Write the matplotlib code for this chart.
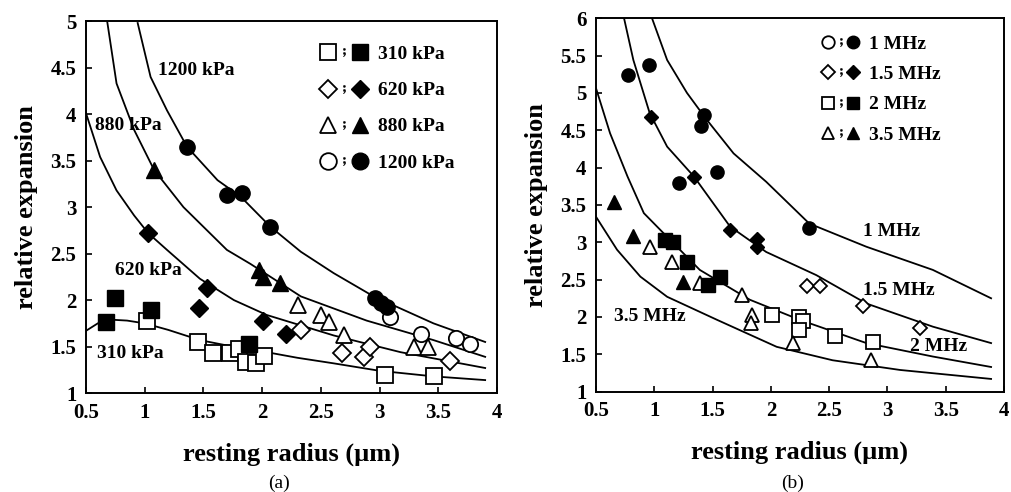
import matplotlib
matplotlib.use('Agg')
import matplotlib.pyplot as plt
from matplotlib.lines import Line2D
from matplotlib.legend_handler import HandlerTuple

plt.rcParams['font.family'] = 'Liberation Serif'
plt.rcParams['font.weight'] = 'bold'
plt.rcParams['mathtext.fontset'] = 'stix'

text_size = 14

# ---- panel (a): pressure ----
a_labels = ['310 kPa', '620 kPa', '880 kPa', '1200 kPa']
a_markers = ['s', 'D', '^', 'o']

a_open_x = [[1.02, 1.45, 1.58, 1.73, 1.80, 1.86, 1.95, 2.02, 3.05, 3.46],
            [2.33, 2.68, 2.87, 2.92, 3.60],
            [2.31, 2.50, 2.57, 2.70, 3.29, 3.41],
            [3.09, 3.35, 3.65, 3.77]]
a_open_y = [[1.78, 1.55, 1.43, 1.43, 1.47, 1.33, 1.32, 1.40, 1.19, 1.18],
            [1.68, 1.43, 1.39, 1.50, 1.34],
            [1.95, 1.84, 1.77, 1.62, 1.50, 1.50],
            [1.82, 1.64, 1.59, 1.53]]
a_fill_x = [[0.67, 0.75, 1.05, 1.89],
            [1.03, 1.53, 1.46, 2.01, 2.20],
            [1.08, 1.97, 2.01, 2.15],
            [1.36, 1.70, 1.83, 2.07, 2.96, 3.01, 3.06]]
a_fill_y = [[1.77, 2.02, 1.89, 1.53],
            [2.72, 2.13, 1.91, 1.78, 1.64],
            [3.40, 2.32, 2.25, 2.18],
            [3.65, 3.13, 3.15, 2.79, 2.02, 1.97, 1.93]]

a_curve_x = [[0.5, 0.6, 0.71, 0.85, 1.0, 1.2, 1.47, 1.75, 2.04, 2.3, 2.61, 3.0, 3.46, 3.9],
             [0.5, 0.62, 0.76, 0.91, 1.03, 1.19, 1.47, 1.76, 2.04, 2.61, 3.18, 3.9],
             [0.68, 0.76, 0.91, 1.08, 1.33, 1.70, 1.90, 2.33, 2.89, 3.46, 3.9],
             [0.94, 1.05, 1.19, 1.36, 1.62, 1.82, 2.07, 2.33, 2.61, 2.95, 3.46, 3.9]]
a_curve_y = [[1.67, 1.75, 1.79, 1.78, 1.75, 1.68, 1.57, 1.50, 1.44, 1.38, 1.32, 1.24, 1.18, 1.14],
             [4.01, 3.54, 3.18, 2.91, 2.72, 2.54, 2.23, 2.0, 1.84, 1.62, 1.44, 1.27],
             [5.0, 4.33, 3.83, 3.40, 3.0, 2.54, 2.39, 2.04, 1.78, 1.57, 1.39],
             [4.98, 4.40, 4.04, 3.65, 3.29, 3.11, 2.79, 2.52, 2.29, 2.04, 1.75, 1.55]]
a_curve_text = ['310 kPa', '620 kPa', '880 kPa', '1200 kPa']
a_text_x = [0.59, 0.75, 0.58, 1.11]
a_text_y = [1.43, 2.32, 3.88, 4.47]

# ---- panel (b): frequency ----
b_labels = ['1 MHz', '1.5 MHz', '2 MHz', '3.5 MHz']
b_markers = ['o', 'D', 's', '^']

b_open_x = [[],
            [2.31, 2.42, 2.79, 3.28],
            [2.01, 2.24, 2.28, 2.24, 2.55, 2.88],
            [0.96, 1.15, 1.39, 1.75, 1.84, 1.83, 2.19, 2.86]]
b_open_y = [[],
            [2.41, 2.41, 2.14, 1.85],
            [2.03, 2.00, 1.94, 1.82, 1.75, 1.67],
            [2.94, 2.74, 2.45, 2.29, 2.03, 1.92, 1.65, 1.42]]
b_fill_x = [[0.77, 0.95, 1.43, 1.40, 1.21, 1.54, 2.33],
            [0.97, 1.34, 1.65, 1.88, 1.88],
            [1.09, 1.16, 1.28, 1.46, 1.56],
            [0.65, 0.82, 1.25]]
b_fill_y = [[5.24, 5.37, 4.71, 4.56, 3.79, 3.94, 3.19],
            [4.68, 3.88, 3.16, 3.04, 2.94],
            [3.03, 3.01, 2.74, 2.43, 2.54],
            [3.54, 3.08, 2.47]]

b_curve_x = [[0.98, 1.11, 1.28, 1.44, 1.68, 1.96, 2.33, 2.82, 3.39, 3.89],
             [0.74, 0.82, 0.96, 1.11, 1.34, 1.65, 1.96, 2.39, 2.82, 3.39, 3.89],
             [0.5, 0.62, 0.77, 0.91, 1.08, 1.39, 1.82, 2.25, 2.82, 3.39, 3.89],
             [0.5, 0.68, 0.88, 1.11, 1.54, 2.05, 2.53, 3.11, 3.89]]
b_curve_y = [[6.0, 5.44, 5.0, 4.66, 4.19, 3.81, 3.25, 2.94, 2.63, 2.25],
             [6.0, 5.44, 4.73, 4.28, 3.88, 3.21, 2.87, 2.56, 2.18, 1.87, 1.65],
             [5.06, 4.46, 3.88, 3.39, 3.12, 2.63, 2.23, 1.96, 1.65, 1.47, 1.33],
             [3.34, 2.90, 2.54, 2.27, 1.96, 1.60, 1.42, 1.29, 1.17]]
b_curve_text = ['1 MHz', '1.5 MHz', '2 MHz', '3.5 MHz']
b_text_x = [2.79, 2.79, 3.19, 0.65]
b_text_y = [3.14, 2.36, 1.60, 2.00]


def draw_panel(ax, labels, markers, open_x, open_y, fill_x, fill_y,
               curve_x, curve_y, ctext, tx, ty, ms, ymax, yticks,
               leg_ms, leg_anchor, leg_space, leg_hlen, leg_pad):
  for cx, cy in zip(curve_x, curve_y):
    ax.plot(cx, cy, color='black', lw=1.3, zorder=2)
  handles = []
  for i, mk in enumerate(markers):
    size = ms * 0.8 if mk == 'D' else ms
    ax.plot(open_x[i], open_y[i], ls='', marker=mk, ms=size, mfc='white',
            mec='black', mew=1.3, zorder=3)
    ax.plot(fill_x[i], fill_y[i], ls='', marker=mk, ms=size, mfc='black',
            mec='black', mew=1.0, zorder=4)
    lsize = leg_ms * 0.8 if mk == 'D' else leg_ms
    h_open = Line2D([], [], ls='', marker=mk, ms=lsize, mfc='white', mec='black', mew=1.3)
    h_semi = Line2D([], [], ls='', marker='$;$', ms=6, color='black', mew=0.3)
    h_fill = Line2D([], [], ls='', marker=mk, ms=lsize, mfc='black', mec='black')
    handles.append((h_open, h_semi, h_fill))
  for s, x, y in zip(ctext, tx, ty):
    ax.text(x, y, s, fontsize=text_size, fontweight='bold', va='center', ha='left')
  ax.legend(handles, labels, handler_map={tuple: HandlerTuple(ndivide=None, pad=leg_pad)},
            loc='upper left', bbox_to_anchor=leg_anchor, frameon=False,
            fontsize=text_size, handlelength=leg_hlen, handletextpad=0.5,
            labelspacing=leg_space, borderaxespad=0)
  ax.set_xlim(0.5, 4)
  ax.set_ylim(1, ymax)
  ax.set_xticks([0.5, 1, 1.5, 2, 2.5, 3, 3.5, 4])
  ax.set_xticklabels(['0.5', '1', '1.5', '2', '2.5', '3', '3.5', '4'])
  ax.set_yticks(yticks)
  ax.set_yticklabels(['%g' % t for t in yticks])
  ax.tick_params(direction='in', length=4, width=1.2, labelsize=text_size + 1, pad=7,
                 top=False, right=False)
  for sp in ax.spines.values():
    sp.set_linewidth(1.4)
  ax.set_xlabel('resting radius (\u00b5m)', fontsize=text_size + 5, fontweight='bold', labelpad=14)
  ax.set_ylabel('relative expansion', fontsize=text_size + 5, fontweight='bold', labelpad=9)


def main():
  fig = plt.figure(figsize=(10.12, 4.92), dpi=100)
  ax1 = fig.add_axes([0.085, 0.201, 0.406, 0.756])
  ax2 = fig.add_axes([0.589, 0.204, 0.403, 0.759])

  draw_panel(ax1, a_labels, a_markers, a_open_x, a_open_y, a_fill_x, a_fill_y,
             a_curve_x, a_curve_y, a_curve_text, a_text_x, a_text_y,
             ms=11, ymax=5, yticks=[1, 1.5, 2, 2.5, 3, 3.5, 4, 4.5, 5],
             leg_ms=12, leg_anchor=(0.55, 0.955), leg_space=0.95, leg_hlen=2.5, leg_pad=0.0)
  draw_panel(ax2, b_labels, b_markers, b_open_x, b_open_y, b_fill_x, b_fill_y,
             b_curve_x, b_curve_y, b_curve_text, b_text_x, b_text_y,
             ms=9.5, ymax=6, yticks=[1, 1.5, 2, 2.5, 3, 3.5, 4, 4.5, 5, 5.5, 6],
             leg_ms=9, leg_anchor=(0.535, 0.975), leg_space=0.65, leg_hlen=1.9, leg_pad=0.0)

  fig.text(0.276, 0.008, '(a)', fontsize=text_size, fontweight='normal', ha='center')
  fig.text(0.783, 0.008, '(b)', fontsize=text_size, fontweight='normal', ha='center')
  fig.savefig('out.png', dpi=100)


if __name__ == '__main__':
  main()
